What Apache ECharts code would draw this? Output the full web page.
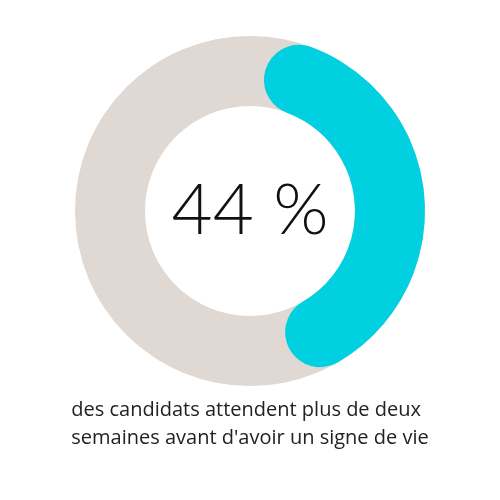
<!DOCTYPE html>
<html><head><meta charset="utf-8">
<script src="https://cdn.jsdelivr.net/npm/echarts@6/dist/echarts.min.js"></script>
<style>html,body{margin:0;padding:0;background:#fff}#c{width:500px;height:500px}</style>
</head><body><div id="c"></div>
<script>
const categories = ['Plus de deux semaines', 'Autres'];
const values = [44, 56];
const centerLabel = '44 %';
const captionLines = ['des candidats attendent plus de deux', 'semaines avant d\'avoir un signe de vie'];

const chart = echarts.init(document.getElementById('c'));
chart.setOption({
  animation: false,
  graphic: [
    { type: 'text', left: 'center', top: 396, style: { text: captionLines.join('\n'), fill: '#222', font: '20px "Open Sans"', lineHeight: 28, align: 'center' } }
  ],
  series: [
    {
      type: 'pie', center: [250, 211], radius: [105, 175], silent: true,
      label: { show: true, position: 'center', formatter: centerLabel, fontFamily: 'Lato', fontWeight: 300, fontSize: 71, color: '#111' },
      labelLine: { show: false },
      itemStyle: { color: '#E0D8D2' },
      data: [{ name: 'total', value: 1 }]
    },
    {
      type: 'pie', center: [250, 211], radius: [105, 175], silent: true,
      startAngle: 84, clockwise: true,
      label: { show: false }, labelLine: { show: false },
      itemStyle: { borderRadius: 35 },
      data: [
        { name: categories[0], value: values[0], itemStyle: { color: '#00D0E0' } },
        { name: categories[1], value: values[1], itemStyle: { color: 'rgba(0,0,0,0)' } }
      ]
    }
  ]
});
</script></body></html>
